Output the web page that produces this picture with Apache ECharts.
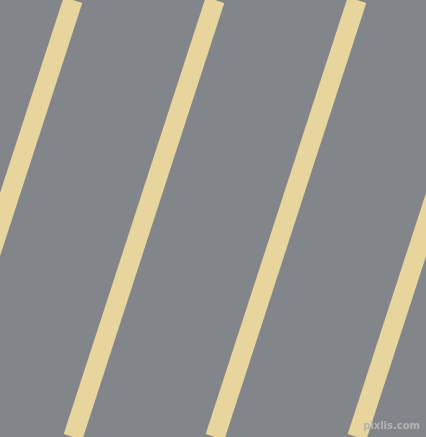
<!DOCTYPE html>
<html>
<head>
<meta charset="utf-8">
<script src="https://cdn.jsdelivr.net/npm/echarts@6/dist/echarts.min.js"></script>
<style>
  html, body { margin: 0; padding: 0; background: #828589; }
  #chart { width: 426px; height: 437px; }
</style>
</head>
<body>
<div id="chart"></div>
<script>
  /* --- stripe data: x where each stripe crosses the top (y=0) and the bottom (y=437) --- */
  const stripeTopX = [73, 215, 357, 499];
  const stripeBottomX = [-69, 73, 215, 357];
  const edgeY = [0, 437];

  const chart = echarts.init(document.getElementById('chart'));

  const series = stripeTopX.map((tx, i) => ({
    type: 'line',
    data: [[tx, edgeY[0]], [stripeBottomX[i], edgeY[1]]],
    symbol: 'none',
    clip: true,
    silent: true,
    lineStyle: { color: '#e8d59d', width: 19.5, cap: 'butt' }
  }));

  chart.setOption({
    backgroundColor: '#828589',
    animation: false,
    grid: { left: 0, right: 0, top: 0, bottom: 0 },
    xAxis: { type: 'value', min: 0, max: 426, show: false },
    yAxis: { type: 'value', min: 0, max: 437, inverse: true, show: false },
    title: {
      text: 'pixlis.com',
      right: 1,
      bottom: 1,
      textStyle: {
        fontFamily: 'DejaVu Sans',
        fontSize: 10,
        fontWeight: 'bold',
        color: '#b4b4b4',
        textShadowColor: 'rgba(60,60,60,0.8)',
        textShadowOffsetX: 1,
        textShadowOffsetY: 1,
        textShadowBlur: 0
      }
    },
    series: series
  });
</script>
</body>
</html>
